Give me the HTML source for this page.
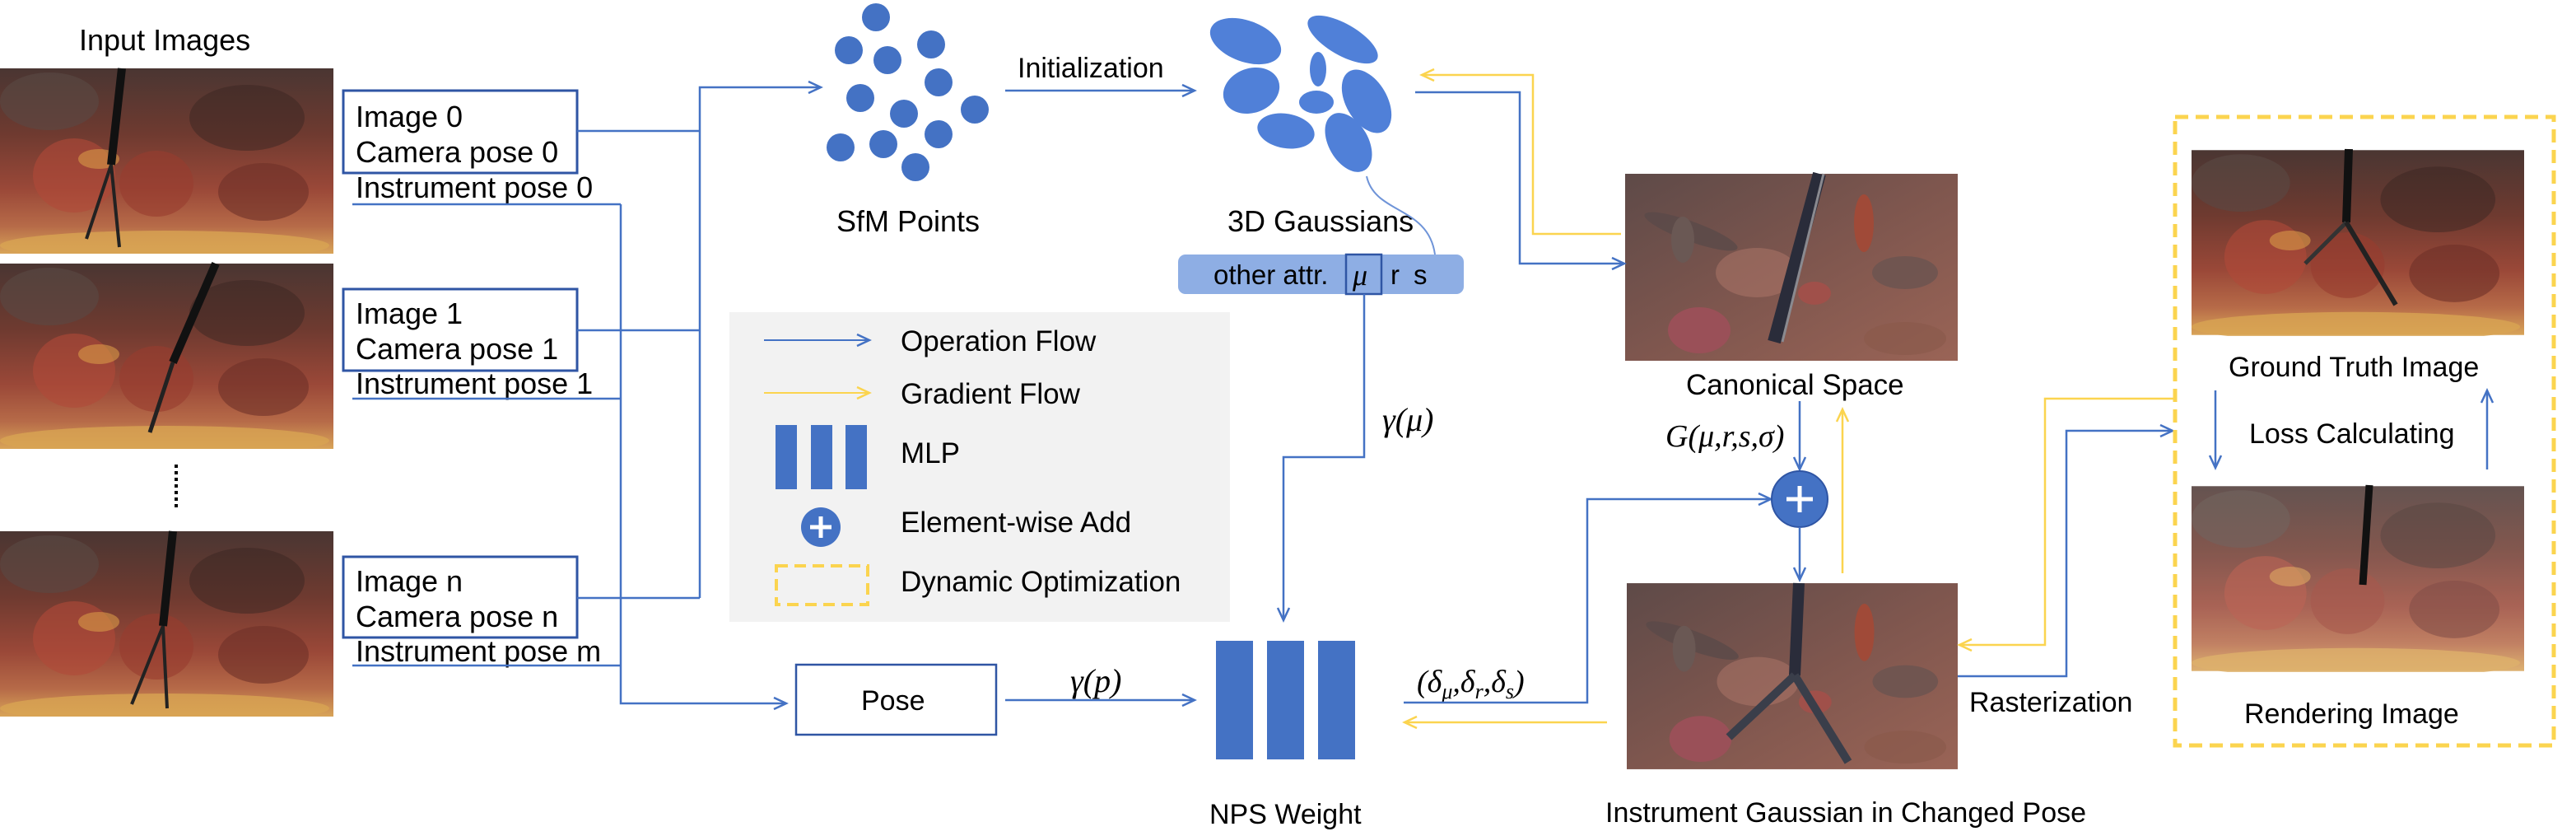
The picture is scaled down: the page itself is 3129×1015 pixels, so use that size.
<!DOCTYPE html>
<html><head><meta charset="utf-8"><style>
html,body{margin:0;padding:0;background:#fff;}
svg{display:block;}
text{font-family:"Liberation Sans",Arial,sans-serif;fill:#000;}
.m{font-family:"Liberation Serif",serif;font-style:italic;}
</style></head><body>
<svg width="3129" height="1015" viewBox="0 0 3129 1015" xmlns="http://www.w3.org/2000/svg">
<defs>
<marker id="ab" markerWidth="20" markerHeight="20" refX="17" refY="10" orient="auto" markerUnits="userSpaceOnUse"><polyline points="2,3 17,10 2,17" fill="none" stroke="#4472c4" stroke-width="2.5"/></marker>
<marker id="ay" markerWidth="20" markerHeight="20" refX="17" refY="10" orient="auto" markerUnits="userSpaceOnUse"><polyline points="2,3 17,10 2,17" fill="none" stroke="#fbd44f" stroke-width="2.5"/></marker>
<linearGradient id="tg" x1="0" y1="0" x2="0" y2="1">
<stop offset="0" stop-color="#4a3632"/><stop offset="0.35" stop-color="#6e3a30"/><stop offset="0.65" stop-color="#9a4838"/><stop offset="0.85" stop-color="#b66a48"/><stop offset="1" stop-color="#d8a458"/></linearGradient>
<linearGradient id="gg" x1="0" y1="0" x2="1" y2="1">
<stop offset="0" stop-color="#5e4a48"/><stop offset="0.5" stop-color="#7e564e"/><stop offset="1" stop-color="#9a6456"/></linearGradient>
<symbol id="tissue" viewBox="0 0 405 225">
<rect width="405" height="225" fill="url(#tg)"/>
<ellipse cx="90" cy="130" rx="50" ry="45" fill="#b04a38" opacity="0.6"/>
<ellipse cx="190" cy="140" rx="45" ry="40" fill="#983c2e" opacity="0.6"/>
<ellipse cx="300" cy="60" rx="70" ry="40" fill="#3a2622" opacity="0.5"/>
<ellipse cx="320" cy="150" rx="55" ry="35" fill="#6e3028" opacity="0.6"/>
<ellipse cx="120" cy="110" rx="25" ry="12" fill="#d89a48" opacity="0.6"/>
<ellipse cx="200" cy="215" rx="200" ry="18" fill="#d8a452" opacity="0.8"/>
<ellipse cx="60" cy="40" rx="60" ry="35" fill="#5a4a44" opacity="0.6"/>
</symbol>
<symbol id="gauss" viewBox="0 0 404 227">
<rect width="404" height="227" fill="url(#gg)"/>
<ellipse cx="80" cy="70" rx="60" ry="12" transform="rotate(20 80 70)" fill="#5a4a48" opacity="0.8"/>
<ellipse cx="70" cy="80" rx="14" ry="28" fill="#6a5854"/>
<ellipse cx="290" cy="60" rx="12" ry="35" fill="#a04a38"/>
<ellipse cx="90" cy="190" rx="38" ry="28" fill="#9a5058"/>
<ellipse cx="230" cy="145" rx="20" ry="14" fill="#a0504a"/>
<ellipse cx="340" cy="120" rx="40" ry="20" fill="#6a5450" opacity="0.8"/>
<ellipse cx="160" cy="120" rx="50" ry="30" fill="#b0786a" opacity="0.5"/>
<ellipse cx="340" cy="200" rx="50" ry="20" fill="#8a5a4c" opacity="0.7"/>
</symbol>
</defs>

<text x="96" y="61" font-size="36">Input Images</text>
<g>
<use href="#tissue" x="0" y="83" width="405" height="225"/>
<line x1="148" y1="83" x2="135" y2="200" stroke="#111" stroke-width="10"/>
<line x1="135" y1="200" x2="105" y2="290" stroke="#222" stroke-width="4"/>
<line x1="135" y1="200" x2="145" y2="300" stroke="#222" stroke-width="4"/>
</g>
<g>
<use href="#tissue" x="0" y="320" width="405" height="225"/>
<line x1="262" y1="320" x2="210" y2="440" stroke="#111" stroke-width="10"/>
<line x1="210" y1="440" x2="182" y2="525" stroke="#222" stroke-width="5"/>
</g>
<line x1="214" y1="564" x2="214" y2="618" stroke="#000" stroke-width="4" stroke-dasharray="4,4"/>
<g>
<use href="#tissue" x="0" y="645" width="405" height="225"/>
<line x1="210" y1="645" x2="198" y2="760" stroke="#111" stroke-width="10"/>
<line x1="198" y1="760" x2="160" y2="855" stroke="#222" stroke-width="4"/>
<line x1="198" y1="760" x2="203" y2="860" stroke="#222" stroke-width="4"/>
</g>

<g font-size="36">
<rect x="417" y="110" width="284" height="100" fill="none" stroke="#2f55a4" stroke-width="3"/>
<text x="432" y="154">Image 0</text><text x="432" y="197">Camera pose 0</text>
<text x="432" y="240">Instrument pose 0</text>
</g>
<g font-size="36">
<rect x="417" y="351" width="284" height="99" fill="none" stroke="#2f55a4" stroke-width="3"/>
<text x="432" y="393">Image 1</text><text x="432" y="436">Camera pose 1</text>
<text x="432" y="478">Instrument pose 1</text>
</g>
<g font-size="36">
<rect x="417" y="676" width="284" height="98" fill="none" stroke="#2f55a4" stroke-width="3"/>
<text x="432" y="718">Image n</text><text x="432" y="761">Camera pose n</text>
<text x="432" y="803">Instrument pose m</text>
</g>

<g fill="none" stroke="#4472c4" stroke-width="2.5">
<polyline points="428,248 754,248"/><polyline points="428,484 754,484"/><polyline points="428,808 754,808"/>
<polyline points="754,248 754,854 955,854" marker-end="url(#ab)"/>
<polyline points="701,159 850,159"/><polyline points="701,401 850,401"/><polyline points="701,726 850,726"/>
<polyline points="850,726 850,106 997,106" marker-end="url(#ab)"/>
</g>

<g fill="#4472c4">
<circle cx="1064" cy="21" r="17"/><circle cx="1031" cy="61" r="17"/><circle cx="1131" cy="54" r="17"/><circle cx="1078" cy="73" r="17"/><circle cx="1140" cy="100" r="17"/><circle cx="1045" cy="119" r="17"/><circle cx="1098" cy="138" r="17"/><circle cx="1184" cy="133" r="17"/><circle cx="1140" cy="163" r="17"/><circle cx="1021" cy="179" r="17"/><circle cx="1073" cy="175" r="17"/><circle cx="1112" cy="203" r="17"/>
</g>
<text x="1016" y="281" font-size="36">SfM Points</text>
<text x="1236" y="94" font-size="34">Initialization</text>
<line x1="1221" y1="110" x2="1451" y2="110" stroke="#4472c4" stroke-width="2.5" marker-end="url(#ab)"/>

<g fill="#5080d8">
<ellipse cx="1513" cy="50" rx="45" ry="25" transform="rotate(20 1513 50)"/>
<ellipse cx="1631" cy="48" rx="48" ry="19" transform="rotate(30 1631 48)"/>
<ellipse cx="1601" cy="84" rx="10" ry="21"/>
<ellipse cx="1520" cy="110" rx="35" ry="27" transform="rotate(-20 1520 110)"/>
<ellipse cx="1599" cy="124" rx="21" ry="14"/>
<ellipse cx="1660" cy="123" rx="25" ry="42" transform="rotate(-30 1660 123)"/>
<ellipse cx="1562" cy="159" rx="35" ry="21" transform="rotate(10 1562 159)"/>
<ellipse cx="1638" cy="173" rx="24" ry="39" transform="rotate(-30 1638 173)"/>
</g>
<text x="1491" y="281" font-size="36">3D Gaussians</text>
<path d="M1660,214 C1670,260 1735,250 1743,309" fill="none" stroke="#6f94d8" stroke-width="2"/>
<g>
<rect x="1431" y="309" width="347" height="48" rx="9" fill="#8eaee4"/>
<rect x="1635" y="309" width="43" height="48" fill="none" stroke="#2f55a4" stroke-width="2.5"/>
<text x="1474" y="345" font-size="33">other attr.</text>
<text x="1643" y="346" font-size="36" class="m">μ</text>
<text x="1689" y="345" font-size="33">r</text>
<text x="1717" y="345" font-size="33">s</text>
</g>
<polyline points="1657,357 1657,555 1559,555 1559,753" fill="none" stroke="#4472c4" stroke-width="2.5" marker-end="url(#ab)"/>
<text x="1679" y="523" font-size="40" class="m">γ(μ)</text>

<g>
<rect x="886" y="379" width="608" height="376" fill="#f2f2f2"/>
<line x1="928" y1="413" x2="1056" y2="413" stroke="#4472c4" stroke-width="2" marker-end="url(#ab)"/>
<line x1="928" y1="477" x2="1056" y2="477" stroke="#fbd44f" stroke-width="2" marker-end="url(#ay)"/>
<rect x="942" y="516" width="26" height="78" fill="#4472c4"/><rect x="985" y="516" width="26" height="78" fill="#4472c4"/><rect x="1027" y="516" width="26" height="78" fill="#4472c4"/>
<circle cx="997" cy="640" r="24" fill="#4472c4"/>
<path d="M984,640 H1010 M997,627 V653" stroke="#fff" stroke-width="5"/>
<rect x="943" y="687" width="111" height="47" fill="none" stroke="#fbd44f" stroke-width="4" stroke-dasharray="14,8"/>
<g font-size="35">
<text x="1094" y="426">Operation Flow</text>
<text x="1094" y="490">Gradient Flow</text>
<text x="1094" y="562">MLP</text>
<text x="1094" y="646">Element-wise Add</text>
<text x="1094" y="718">Dynamic Optimization</text>
</g>
</g>

<rect x="967" y="807" width="243" height="85" fill="none" stroke="#2f55a4" stroke-width="2.5"/>
<text x="1046" y="862" font-size="34">Pose</text>
<text x="1300" y="840" font-size="40" class="m">γ(p)</text>
<line x1="1221" y1="850" x2="1451" y2="850" stroke="#4472c4" stroke-width="2.5" marker-end="url(#ab)"/>

<g fill="#4472c4">
<rect x="1477" y="778" width="45" height="144"/><rect x="1539" y="778" width="45" height="144"/><rect x="1601" y="778" width="45" height="144"/>
</g>
<text x="1469" y="1000" font-size="34">NPS Weight</text>
<text x="1721" y="840" font-size="38" class="m">(δ<tspan font-size="26" dy="8">μ</tspan><tspan dy="-8">,δ</tspan><tspan font-size="26" dy="8">r</tspan><tspan dy="-8">,δ</tspan><tspan font-size="26" dy="8">s</tspan><tspan dy="-8">)</tspan></text>
<polyline points="1705,853 1928,853 1928,606 2151,606" fill="none" stroke="#4472c4" stroke-width="2.5" marker-end="url(#ab)"/>
<line x1="1952" y1="877" x2="1706" y2="877" stroke="#fbd44f" stroke-width="2.5" marker-end="url(#ay)"/>

<g>
<use href="#gauss" x="1974" y="211" width="404" height="227"/>
<line x1="2210" y1="211" x2="2155" y2="415" stroke="#2a2c3a" stroke-width="16"/>
<line x1="2215" y1="211" x2="2165" y2="415" stroke="#8a8a90" stroke-width="3"/>
</g>
<text x="2048" y="479" font-size="35">Canonical Space</text>
<polyline points="1719,112 1846,112 1846,320 1973,320" fill="none" stroke="#4472c4" stroke-width="2.5" marker-end="url(#ab)"/>
<polyline points="1969,284 1862,284 1862,91 1727,91" fill="none" stroke="#fbd44f" stroke-width="2.5" marker-end="url(#ay)"/>
<text x="2023" y="542" font-size="38" class="m">G(μ,r,s,σ)</text>
<line x1="2186" y1="487" x2="2186" y2="570" stroke="#4472c4" stroke-width="2.5" marker-end="url(#ab)"/>
<line x1="2238" y1="696" x2="2238" y2="497" stroke="#fbd44f" stroke-width="2.5" marker-end="url(#ay)"/>
<g>
<circle cx="2186" cy="606" r="34" fill="#4472c4" stroke="#2f55a4" stroke-width="2"/>
<path d="M2170,606 H2202 M2186,590 V622" stroke="#fff" stroke-width="5"/>
</g>
<line x1="2186" y1="640" x2="2186" y2="704" stroke="#4472c4" stroke-width="2.5" marker-end="url(#ab)"/>
<g>
<use href="#gauss" x="1976" y="708" width="402" height="226"/>
<line x1="2185" y1="708" x2="2180" y2="820" stroke="#2a2c3a" stroke-width="14"/>
<line x1="2180" y1="820" x2="2100" y2="895" stroke="#3a3e4a" stroke-width="10"/>
<line x1="2180" y1="820" x2="2245" y2="925" stroke="#3a3e4a" stroke-width="10"/>
</g>
<text x="1950" y="998" font-size="34">Instrument Gaussian in Changed Pose</text>
<polyline points="2378,821 2510,821 2510,523 2639,523" fill="none" stroke="#4472c4" stroke-width="2.5" marker-end="url(#ab)"/>
<polyline points="2641,484 2484,484 2484,783 2380,783" fill="none" stroke="#fbd44f" stroke-width="2.5" marker-end="url(#ay)"/>
<text x="2392" y="864" font-size="34">Rasterization</text>

<rect x="2642" y="142" width="460" height="763" fill="none" stroke="#fbd44f" stroke-width="5" stroke-dasharray="16,9"/>
<g>
<use href="#tissue" x="2662" y="181" width="404" height="227"/>
<line x1="2853" y1="181" x2="2850" y2="270" stroke="#111" stroke-width="10"/>
<line x1="2850" y1="270" x2="2800" y2="320" stroke="#333" stroke-width="5"/>
<line x1="2850" y1="270" x2="2910" y2="370" stroke="#222" stroke-width="6"/>
</g>
<text x="2707" y="457" font-size="34">Ground Truth Image</text>
<line x1="2691" y1="474" x2="2691" y2="568" stroke="#4472c4" stroke-width="2.5" marker-end="url(#ab)"/>
<text x="2732" y="538" font-size="34">Loss Calculating</text>
<line x1="3021" y1="570" x2="3021" y2="474" stroke="#4472c4" stroke-width="2.5" marker-end="url(#ab)"/>
<g>
<use href="#tissue" x="2662" y="589" width="404" height="227" opacity="0.85"/>
<line x1="2878" y1="589" x2="2870" y2="710" stroke="#111" stroke-width="9"/>
</g>
<text x="2726" y="878" font-size="34">Rendering Image</text>
</svg>
</body></html>
